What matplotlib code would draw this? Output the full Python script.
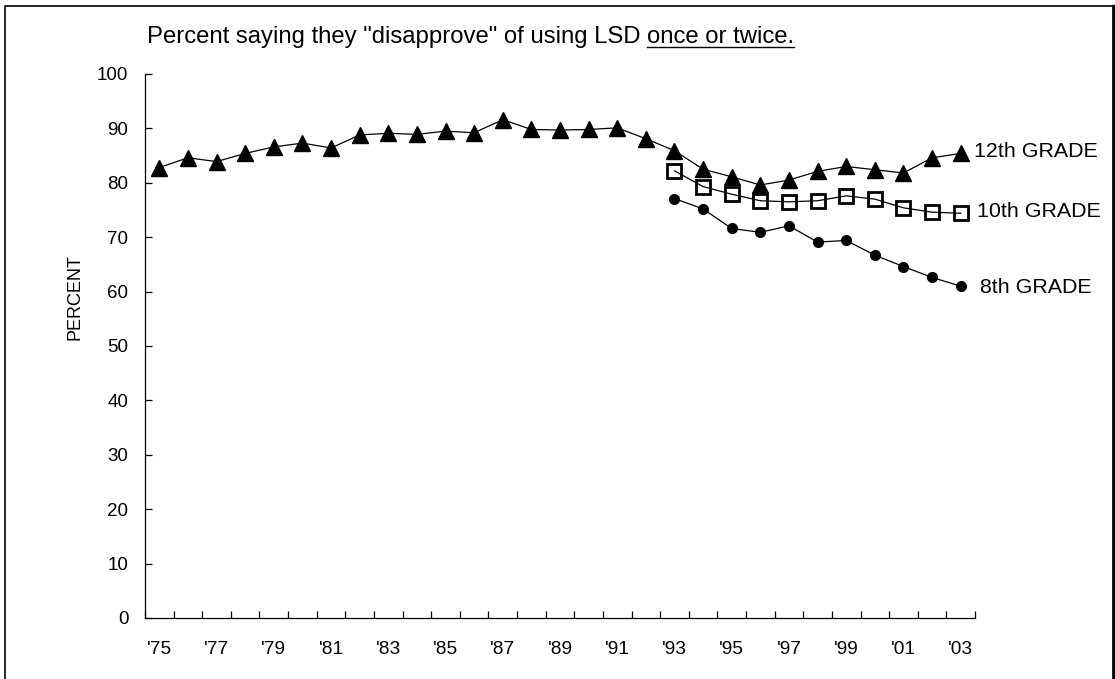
import matplotlib
matplotlib.use('Agg')
import matplotlib.pyplot as plt
from matplotlib.lines import Line2D

plt.rcParams['font.family'] = ['Liberation Sans', 'DejaVu Sans']

years = list(range(1975, 2004))
year_labels = ["'%02d" % (y % 100) if (y - 1975) % 2 == 0 else '' for y in years]

twelfth = [82.8, 84.6, 83.9, 85.4, 86.6, 87.3, 86.4, 88.8, 89.1, 88.9,
           89.5, 89.2, 91.6, 89.8, 89.7, 89.8, 90.1, 88.1, 85.9, 82.5,
           81.1, 79.6, 80.5, 82.1, 83.0, 82.4, 81.8, 84.6, 85.4]
tenth_years = list(range(1993, 2004))
tenth = [82.2, 79.3, 77.9, 76.7, 76.5, 76.7, 77.6, 77.0, 75.4, 74.6, 74.4]
eighth = [77.1, 75.2, 71.6, 70.9, 72.1, 69.1, 69.4, 66.7, 64.6, 62.6, 61.0]

W, H = 1115, 679
fig = plt.figure(figsize=(W / 100, H / 100), dpi=100)
ax = fig.add_axes([145 / W, 1 - 618 / H, 830 / W, 544 / H])

x12 = [y - 1975 for y in years]
x10 = [y - 1975 for y in tenth_years]

ax.plot(x12, twelfth, color='black', lw=0.9, marker='^', ms=11,
        mfc='black', mec='black', zorder=3)
ax.plot(x10, tenth, color='black', lw=0.9, marker='s', ms=10.3,
        mfc='none', mec='black', mew=2.0, zorder=3)
ax.plot(x10, eighth, color='black', lw=0.9, marker='o', ms=7,
        mfc='black', mec='black', zorder=3)

ax.annotate('12th GRADE', xy=(x12[-1], twelfth[-1]), xytext=(9.4, 1.5),
            textcoords='offset points', va='center', fontsize=15.4)
ax.annotate('10th GRADE', xy=(x10[-1], tenth[-1]), xytext=(11.5, 1.4),
            textcoords='offset points', va='center', fontsize=15.4)
ax.annotate('8th GRADE', xy=(x10[-1], eighth[-1]), xytext=(13.7, -0.7),
            textcoords='offset points', va='center', fontsize=15.4)

ax.set_xlim(-0.5, 28.5)
ax.set_ylim(0, 100)
ax.set_yticks(range(0, 101, 10))
ax.set_xticks(x12)
ax.set_xticklabels(year_labels)
ax.set_xticks([i - 0.5 for i in range(30)], minor=True)
ax.tick_params(axis='x', which='major', length=0, pad=16.5, labelsize=13.8)
ax.tick_params(axis='x', which='minor', direction='in', length=5, width=0.9)
ax.tick_params(axis='y', direction='in', length=5, width=0.9, pad=12,
               labelsize=13.5)
for s in ['top', 'right']:
    ax.spines[s].set_visible(False)
for s in ['left', 'bottom']:
    ax.spines[s].set_linewidth(0.9)

fig.text(75 / W, 1 - 297 / H, 'PERCENT', rotation=90, ha='center',
         va='center', fontsize=13)

t1 = fig.text(147 / W, 1 - 43 / H, 'Percent saying they "disapprove" of using LSD ',
              fontsize=17.2, va='baseline')
t2 = fig.text(0, 0, 'once or twice.', fontsize=17.2, va='baseline')
fig.canvas.draw()
r = fig.canvas.get_renderer()
b1 = t1.get_window_extent(r)
t2.set_position((b1.x1 / W, 1 - 43 / H))
fig.canvas.draw()
b2 = t2.get_window_extent(r)
uy = (1 - 47 / H)
fig.add_artist(Line2D([b2.x0 / W, b2.x1 / W], [uy, uy], color='black', lw=1.0,
                      transform=fig.transFigure))

# outer frame
fig.add_artist(Line2D([4.5 / W, 4.5 / W, 1113 / W, 1113 / W],
                      [-0.1, 1 - 5.5 / H, 1 - 5.5 / H, -0.1],
                      color='black', lw=1.2, transform=fig.transFigure))
fig.add_artist(Line2D([1113.5 / W, 1113.5 / W], [-0.1, 1 - 5.5 / H],
                      color='black', lw=2.5, transform=fig.transFigure))

fig.savefig('out.png', dpi=100)
